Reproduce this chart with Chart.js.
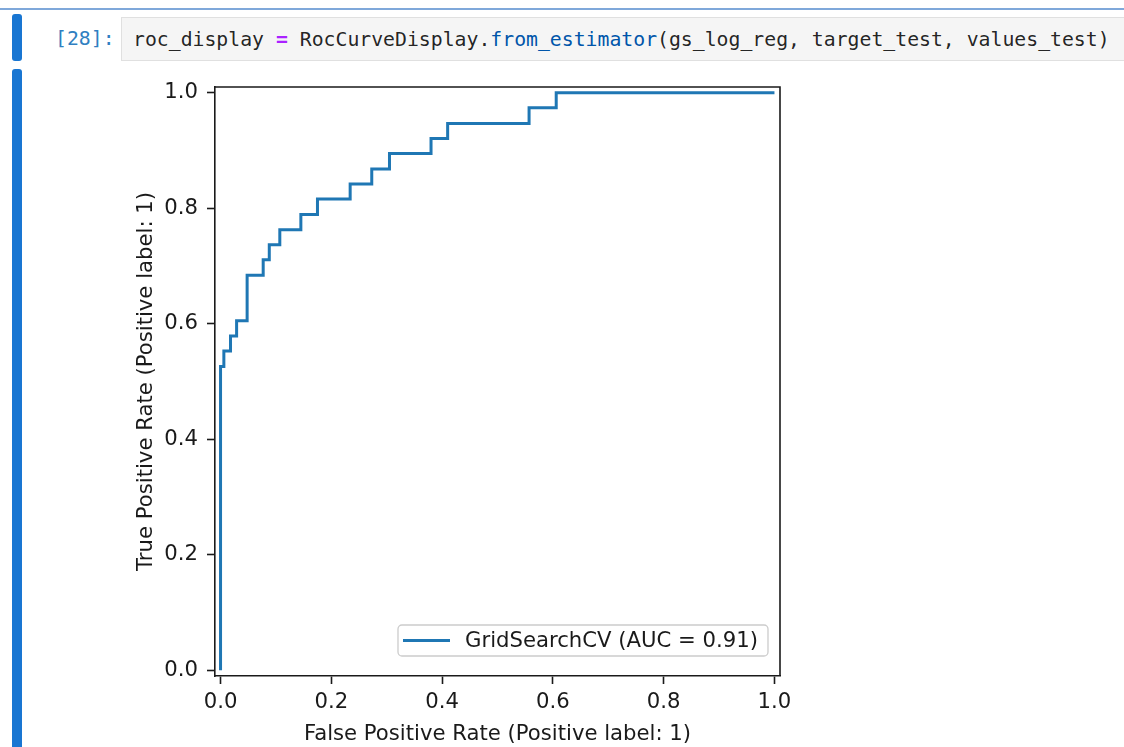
<!DOCTYPE html>
<html>
<head>
<meta charset="utf-8">
<title>ROC curve</title>
<script src="https://cdn.jsdelivr.net/npm/chart.js@4"></script>
<style>
  html, body { margin: 0; padding: 0; background: #fff; }
  body { width: 1124px; height: 747px; overflow: hidden; position: relative; font-family: 'DejaVu Sans Mono', monospace; }
  .topline { position: absolute; left: 0; top: 8px; width: 1124px; height: 2px; background: #7fa8da; }
  .bar { position: absolute; left: 12px; width: 10px; background: #1976d2; border-radius: 3px; }
  .prompt { position: absolute; left: 55px; top: 17px; height: 44px; line-height: 44px; font-size: 19.8px; color: #307fc1; white-space: pre; }
  .cell { position: absolute; left: 121px; top: 17px; width: 1020px; height: 42px; background: #f5f5f5; border: 1px solid #e0e0e0; }
  .code { position: absolute; left: 11px; top: 1px; line-height: 42px; font-size: 19.8px; color: rgba(0,0,0,0.87); white-space: pre; }
  .op { color: #aa22ff; font-weight: bold; }
  .prop { color: #0055aa; }
  #roc { position: absolute; left: 120px; top: 70px; width: 680px; height: 677px; }
</style>
</head>
<body>
<div class="topline"></div>
<div class="bar" style="top:14px;height:47px;"></div>
<div class="bar" style="top:69px;height:700px;"></div>
<div class="prompt">[28]:</div>
<div class="cell"><div class="code">roc_display <span class="op">=</span> RocCurveDisplay.<span class="prop">from_estimator</span>(gs_log_reg, target_test, values_test)</div></div>
<canvas id="roc" width="680" height="677"></canvas>
<script>
// ROC curve corner points (false positive rate, true positive rate)
const fpr = [0, 0, 0.006, 0.006, 0.018, 0.018, 0.029, 0.029, 0.048, 0.048,
             0.077, 0.077, 0.088, 0.088, 0.107, 0.107, 0.145, 0.145, 0.175, 0.175,
             0.234, 0.234, 0.273, 0.273, 0.305, 0.305, 0.380, 0.380, 0.410, 0.410,
             0.557, 0.557, 0.606, 0.606, 1.0];
const tpr = [0, 0.526, 0.526, 0.553, 0.553, 0.579, 0.579, 0.605, 0.605, 0.684,
             0.684, 0.711, 0.711, 0.737, 0.737, 0.763, 0.763, 0.789, 0.789, 0.816,
             0.816, 0.842, 0.842, 0.868, 0.868, 0.895, 0.895, 0.921, 0.921, 0.947,
             0.947, 0.974, 0.974, 1.0, 1.0];
const xTicks = [0.0, 0.2, 0.4, 0.6, 0.8, 1.0];
const yTicks = [0.0, 0.2, 0.4, 0.6, 0.8, 1.0];
const curveLabel = 'GridSearchCV (AUC = 0.91)';
const xTitle = 'False Positive Rate (Positive label: 1)';
const yTitle = 'True Positive Rate (Positive label: 1)';

const FONT = "'DejaVu Sans', sans-serif";
const FONT_SIZE = 21.2;
const INK = '#1a1a1a';
const LINE_W = 1.6;

// Closes the axes box on the top/right and draws the in-plot legend
const frameAndLegend = {
  id: 'frameAndLegend',
  afterDatasetsDraw(chart) {
    const { ctx, chartArea: a } = chart;
    ctx.save();
    ctx.strokeStyle = INK;
    ctx.lineWidth = LINE_W;
    ctx.beginPath();
    ctx.moveTo(a.left, a.top);
    ctx.lineTo(a.right, a.top);
    ctx.lineTo(a.right, a.bottom);
    ctx.stroke();

    const ds = chart.data.datasets[0];
    ctx.font = FONT_SIZE + 'px ' + FONT;
    const tw = ctx.measureText(ds.label).width;
    const w = 5 + 47 + 15 + tw + 10, h = 31;
    const x0 = a.right - 12 - w, y0 = a.bottom - 20 - h;
    ctx.beginPath();
    ctx.roundRect(x0, y0, w, h, 4);
    ctx.fillStyle = 'rgba(255,255,255,0.8)';
    ctx.fill();
    ctx.strokeStyle = '#cccccc';
    ctx.lineWidth = 1.3;
    ctx.stroke();

    ctx.beginPath();
    ctx.moveTo(x0 + 5, y0 + h / 2);
    ctx.lineTo(x0 + 52, y0 + h / 2);
    ctx.strokeStyle = ds.borderColor;
    ctx.lineWidth = ds.borderWidth;
    ctx.stroke();

    ctx.fillStyle = INK;
    ctx.textBaseline = 'middle';
    ctx.textAlign = 'left';
    ctx.fillText(ds.label, x0 + 67, y0 + h / 2 + 1);
    ctx.restore();
  }
};

const axisStyle = {
  grid: { display: true, drawOnChartArea: false, drawTicks: true, tickLength: 8, tickWidth: LINE_W, tickColor: INK },
  border: { display: true, color: INK, width: LINE_W }
};

new Chart(document.getElementById('roc'), {
  type: 'scatter',
  data: {
    datasets: [{
      label: curveLabel,
      data: fpr.map((x, i) => ({ x: x, y: tpr[i] })),
      showLine: true,
      borderColor: '#1f77b4',
      backgroundColor: '#1f77b4',
      borderWidth: 3,
      pointRadius: 0,
      pointHoverRadius: 0,
      tension: 0,
      clip: false
    }]
  },
  options: {
    responsive: false,
    animation: false,
    devicePixelRatio: 1,
    layout: { padding: { left: 0, top: 17, right: 20, bottom: 0 } },
    plugins: { legend: { display: false }, tooltip: { enabled: false } },
    scales: {
      x: {
        type: 'linear', min: -0.01, max: 1.01,
        afterBuildTicks: s => { s.ticks = xTicks.map(v => ({ value: v })); },
        afterFit: s => { s.height = 71; s.paddingLeft = 0; s.paddingRight = 0; },
        ...axisStyle,
        ticks: { color: INK, font: { family: FONT, size: FONT_SIZE }, padding: 6, maxRotation: 0, callback: v => Number(v).toFixed(1) },
        title: { display: true, text: xTitle, color: INK, font: { family: FONT, size: FONT_SIZE }, padding: { top: 0, bottom: 0 } }
      },
      y: {
        type: 'linear', min: -0.01, max: 1.01,
        afterBuildTicks: s => { s.ticks = yTicks.map(v => ({ value: v })); },
        afterFit: s => { s.width = 95; s.paddingTop = 0; s.paddingBottom = 0; },
        ...axisStyle,
        ticks: { color: INK, font: { family: FONT, size: FONT_SIZE }, padding: 9, callback: v => Number(v).toFixed(1) },
        title: { display: true, text: yTitle, color: INK, font: { family: FONT, size: FONT_SIZE }, padding: { top: 13.5, bottom: 0 } }
      }
    }
  },
  plugins: [frameAndLegend]
});
</script>
</body>
</html>
